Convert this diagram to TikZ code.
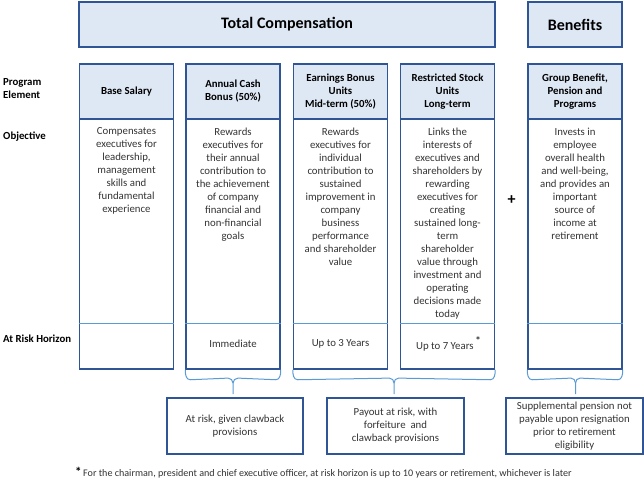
\documentclass[tikz,border=0pt]{standalone}
\usepackage{fontspec}
\setmainfont{Carlito}
\usetikzlibrary{calc}
\definecolor{frame}{HTML}{2F5597}
\definecolor{pale}{HTML}{DEE8F5}
\definecolor{lite}{HTML}{5B9BD5}
\definecolor{txt}{HTML}{333333}
\begin{document}
\begin{tikzpicture}[x=1pt,y=-1pt,
  topbox/.style={draw=frame,line width=1.5pt,fill=pale,minimum height=45,inner sep=0,font=\fontsize{16}{17}\selectfont\bfseries},
  colbox/.style={draw=frame,line width=1.5pt,minimum width=94,minimum height=305,inner sep=0},
  hdrbox/.style={draw=frame,line width=1.5pt,fill=pale,minimum width=94,minimum height=55,inner sep=0,align=center,font=\fontsize{10.8}{13}\selectfont\bfseries},
  objtext/.style={anchor=north,inner sep=0,align=center,text=txt,font=\fontsize{10.8}{13}\selectfont},
  risktext/.style={inner sep=0,align=center,text=txt,font=\fontsize{10.8}{13}\selectfont},
  rowlabel/.style={anchor=west,inner sep=0,align=left,font=\fontsize{10.8}{13}\selectfont\bfseries},
  lowbox/.style={draw=frame,line width=1.8pt,minimum width=136,minimum height=56,inner sep=0,align=center,text=txt,font=\fontsize{10.8}{13}\selectfont},
  sep/.style={draw=lite,line width=0.8pt},
  brc/.style={draw=lite,line width=1pt}
]
\useasboundingbox (0,0) rectangle (644,479);

% top headers
\node[topbox,minimum width=416] (tc) at (287,24.5) {Total Compensation};
\node[topbox,minimum width=94] (bn) at (575,24.5) {Benefits};

% columns
\node[colbox] (c1) at (126.5,216.5) {};
\node[colbox] (c2) at (233,216.5) {};
\node[colbox] (c3) at (340.5,216.5) {};
\node[colbox] (c4) at (447.5,216.5) {};
\node[colbox] (c5) at (575,216.5) {};

\foreach \c in {1,...,5}{
  \draw[sep] ([yshift=46pt]c\c.south west) -- ([yshift=46pt]c\c.south east);
}

\node[hdrbox] (h1) at (126.5,91.5) {Base Salary};
\node[hdrbox] (h2) at (233,91.5) {Annual Cash\\Bonus (50\%)};
\node[hdrbox] (h3) at (340.5,91.5) {Earnings Bonus\\Units\\Mid-term (50\%)};
\node[hdrbox] (h4) at (447.5,91.5) {Restricted Stock\\Units\\Long-term};
\node[hdrbox] (h5) at (575,91.5) {Group Benefit,\\Pension and\\Programs};

% objectives
\node[objtext] (o1) at (126.5,127.5) {Compensates\\executives for\\leadership,\\management\\skills and\\fundamental\\experience};
\node[objtext] (o2) at (233,127.5) {Rewards\\executives for\\their annual\\contribution to\\the achievement\\of company\\financial and\\non-financial\\goals};
\node[objtext] (o3) at (340.5,127.5) {Rewards\\executives for\\individual\\contribution to\\sustained\\improvement in\\company\\business\\performance\\and shareholder\\value};
\node[objtext] (o4) at (447.5,127.5) {Links the\\interests of\\executives and\\shareholders by\\rewarding\\executives for\\creating\\sustained long-\\term\\shareholder\\value through\\investment and\\operating\\decisions made\\today};
\node[objtext] (o5) at (575,127.5) {Invests in\\employee\\overall health\\and well-being,\\and provides an\\important\\source of\\income at\\retirement};

% risk horizon
\node[risktext] (r2) at (233,344) {Immediate};
\node[risktext] (r3) at (340.5,344) {Up to 3 Years};
\node[risktext] (r4) at (448.5,344) {Up to 7 Years\,\raisebox{0.45em}{\fontsize{11}{11}\selectfont\bfseries *}};

% plus
\node[inner sep=0,font=\fontsize{16}{16}\selectfont\bfseries] (plus) at (511.5,200) {+};

% row labels
\node[rowlabel] (l1) at (3,89) {Program\\Element};
\node[rowlabel] (l2) at (3,137) {Objective};
\node[rowlabel] (l3) at (3,339) {At Risk Horizon};

% lower boxes
\node[lowbox] (b1) at (235,426) {At risk, given clawback\\provisions};
\node[lowbox,minimum width=137] (b2) at (395.5,426) {Payout at risk, with\\forfeiture\ \ and\\clawback provisions};
\node[lowbox,minimum width=137] (b3) at (574.5,426) {Supplemental pension not\\payable upon resignation\\prior to retirement\\eligibility};

% braces
\draw[brc] (c2.south west) to[out=-90,in=180] ($(c2.south west)+(5,10)$) -- ($(b1.north)+(-7,-19)$) to[out=0,in=90] ($(b1.north)+(-2,-14)$) -- ($(b1.north)+(-2,-3)$);
\draw[brc] (c2.south east) to[out=-90,in=0] ($(c2.south east)+(-5,10)$) -- ($(b1.north)+(3,-19)$) to[out=180,in=90] ($(b1.north)+(-2,-14)$);

\draw[brc] (c3.south west) to[out=-90,in=180] ($(c3.south west)+(5,10)$) -- ($(b2.north)+(-6,-19)$) to[out=0,in=90] ($(b2.north)+(-1.5,-14)$) -- ($(b2.north)+(-1.5,-3)$);
\draw[brc] (c4.south east) to[out=-90,in=0] ($(c4.south east)+(-5,10)$) -- ($(b2.north)+(3,-19)$) to[out=180,in=90] ($(b2.north)+(-1.5,-14)$);

\draw[brc] (c5.south west) to[out=-90,in=180] ($(c5.south west)+(5,10)$) -- ($(b3.north)+(-3.5,-19)$) to[out=0,in=90] ($(b3.north)+(1,-14)$) -- ($(b3.north)+(1,-3)$);
\draw[brc] (c5.south east) to[out=-90,in=0] ($(c5.south east)+(-5,10)$) -- ($(b3.north)+(5.5,-19)$) to[out=180,in=90] ($(b3.north)+(1,-14)$);

% footnote
\node[inner sep=0,anchor=west,font=\fontsize{13}{13}\selectfont\bfseries] (star) at (75,472) {*};
\node[inner sep=0,anchor=west,text=txt,font=\fontsize{10.1}{12}\selectfont] (fn) at (83,474) {For the chairman, president and chief executive officer, at risk horizon is up to 10 years or retirement, whichever is later};
\end{tikzpicture}
\end{document}
